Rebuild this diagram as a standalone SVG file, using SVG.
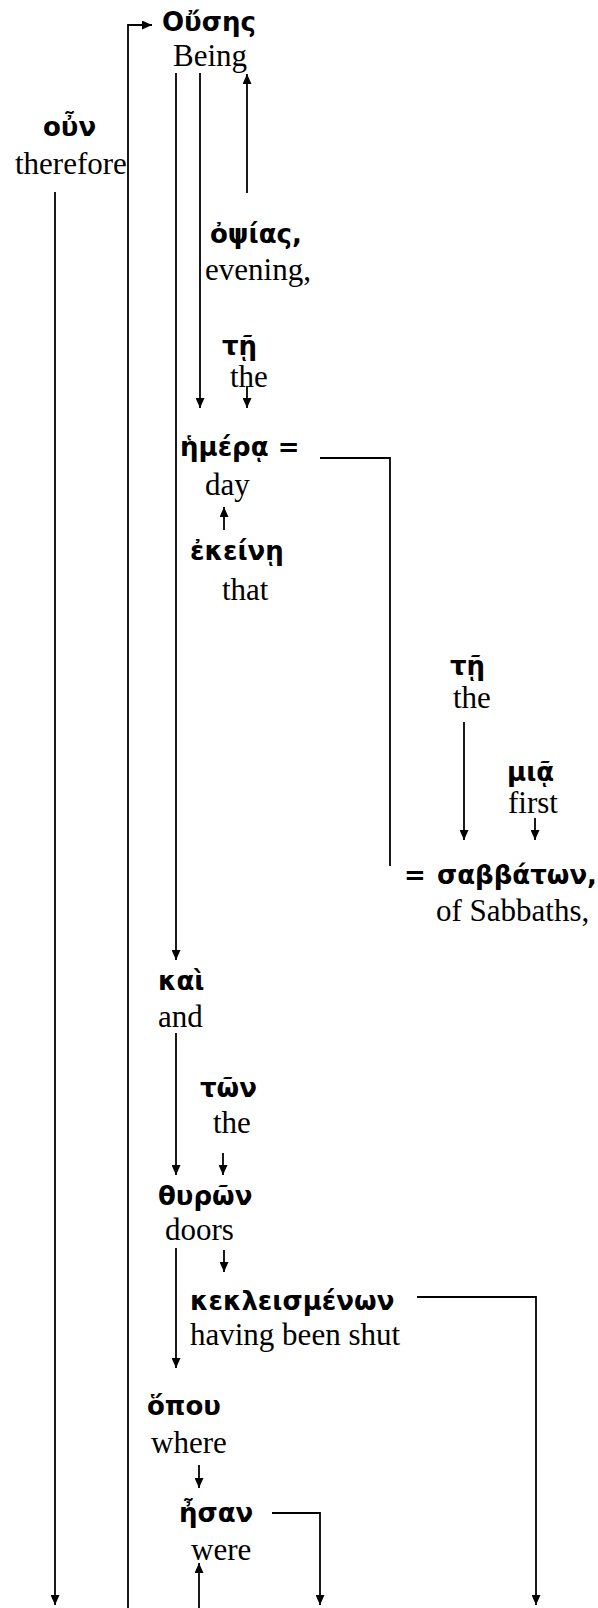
<svg xmlns="http://www.w3.org/2000/svg" width="598" height="1608" viewBox="0 0 598 1608">
<style>
.g{font-family:"DejaVu Sans","Noto Sans",sans-serif;font-weight:bold;font-size:26px;fill:#000}
.e{font-family:"Liberation Serif","Times New Roman",serif;font-size:31px;fill:#000}
.c{fill:none;stroke:#000;stroke-width:1.8}
.a{marker-end:url(#ah)}
</style>
<defs>
<marker id="ah" markerUnits="userSpaceOnUse" markerWidth="10" markerHeight="9" refX="10" refY="4.5" orient="auto">
<path d="M0,0 L10,4.5 L0,9 z" fill="#000"/>
</marker>
</defs>
<rect width="598" height="1608" fill="#fff"/>
<g id="connectors">
<path class="c a" d="M128,1608 V25 H152"/>
<path class="c a" d="M55,192 V1605"/>
<path class="c a" d="M176,73 V960"/>
<path class="c a" d="M200,73 V408"/>
<path class="c a" d="M247,193 V74"/>
<path class="c a" d="M247,386 V408"/>
<path class="c a" d="M224,530 V507"/>
<path class="c" d="M320,458 H390 V866"/>
<path class="c a" d="M464,722 V840"/>
<path class="c a" d="M535,818 V840"/>
<path class="c a" d="M176,1033 V1175"/>
<path class="c a" d="M223,1153 V1175"/>
<path class="c a" d="M176,1248 V1368"/>
<path class="c a" d="M224,1250 V1272"/>
<path class="c a" d="M417,1297 H536 V1605"/>
<path class="c a" d="M199,1465 V1488"/>
<path class="c a" d="M272,1513 H320 V1605"/>
<path class="c a" d="M199,1608 V1563"/>
</g>
<g id="ousēs"><text class="g" x="162" y="31">Οὔσης</text><text class="e" x="173" y="66">Being</text></g>
<g id="oun"><text class="g" x="43" y="136">οὖν</text><text class="e" x="15" y="174">therefore</text></g>
<g id="opsias"><text class="g" x="210" y="243">ὀψίας,</text><text class="e" x="205" y="280">evening,</text></g>
<g id="tē1"><text class="g" x="222" y="355">τῇ</text><text class="e" x="230" y="387">the</text></g>
<g id="hēmera"><text class="g" x="180" y="456">ἡμέρᾳ =</text><text class="e" x="205" y="495">day</text></g>
<g id="ekeinē"><text class="g" x="190" y="560">ἐκείνῃ</text><text class="e" x="222" y="600">that</text></g>
<g id="tē2"><text class="g" x="450" y="675">τῇ</text><text class="e" x="453" y="708">the</text></g>
<g id="mia"><text class="g" x="507" y="781">μιᾷ</text><text class="e" x="508" y="813">first</text></g>
<g id="sabbatōn"><text class="g" y="884"><tspan x="404">=</tspan><tspan x="437">σαββάτων,</tspan></text><text class="e" x="436" y="921">of Sabbaths,</text></g>
<g id="kai"><text class="g" x="158" y="990">καὶ</text><text class="e" x="158" y="1027">and</text></g>
<g id="tōn"><text class="g" x="200" y="1097">τῶν</text><text class="e" x="213" y="1133">the</text></g>
<g id="thyrōn"><text class="g" x="158" y="1205">θυρῶν</text><text class="e" x="165" y="1240">doors</text></g>
<g id="kekleismenōn"><text class="g" x="190" y="1310">κεκλεισμένων</text><text class="e" x="190" y="1345">having been shut</text></g>
<g id="hopou"><text class="g" x="147" y="1415">ὅπου</text><text class="e" x="151" y="1453">where</text></g>
<g id="ēsan"><text class="g" x="179" y="1522">ἦσαν</text><text class="e" x="191" y="1560">were</text></g>
</svg>
